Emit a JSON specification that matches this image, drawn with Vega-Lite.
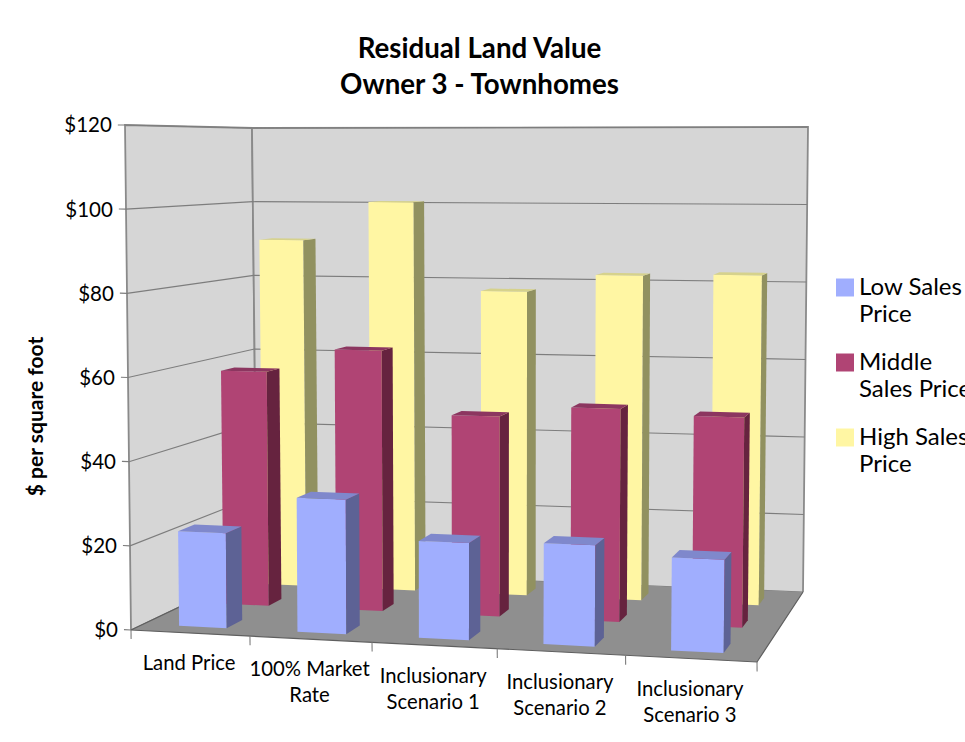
{
  "$schema": "https://vega.github.io/schema/vega-lite/v6.json",
  "width": 965,
  "height": 742,
  "padding": 0,
  "autosize": {"type": "none"},
  "background": "white",
  "title": {
    "text": ["Residual Land Value", "Owner 3 - Townhomes"],
    "font": "Lato",
    "fontSize": 27.7,
    "fontWeight": "bold",
    "lineHeight": 36,
    "color": "#000000",
    "anchor": "middle",
    "frame": "group",
    "baseline": "top",
    "offset": 0,
    "dx": -3,
    "dy": 100
  },
  "config": {"view": {"stroke": null}, "style": {"guide-label": {"lineHeight": 27.5}}},
  "datasets": {
    "bars": [
      {"category": "Land Price", "series": "High Sales Price", "value": 90.5},
      {"category": "100% Market Rate", "series": "High Sales Price", "value": 100.6},
      {"category": "Inclusionary Scenario 1", "series": "High Sales Price", "value": 77.9},
      {"category": "Inclusionary Scenario 2", "series": "High Sales Price", "value": 82.4},
      {"category": "Inclusionary Scenario 3", "series": "High Sales Price", "value": 82.9},
      {"category": "Land Price", "series": "Middle Sales Price", "value": 58.6},
      {"category": "100% Market Rate", "series": "Middle Sales Price", "value": 64.6},
      {"category": "Inclusionary Scenario 1", "series": "Middle Sales Price", "value": 49.1},
      {"category": "Inclusionary Scenario 2", "series": "Middle Sales Price", "value": 51.8},
      {"category": "Inclusionary Scenario 3", "series": "Middle Sales Price", "value": 50.6},
      {"category": "Land Price", "series": "Low Sales Price", "value": 22.7},
      {"category": "100% Market Rate", "series": "Low Sales Price", "value": 31.8},
      {"category": "Inclusionary Scenario 1", "series": "Low Sales Price", "value": 22.8},
      {"category": "Inclusionary Scenario 2", "series": "Low Sales Price", "value": 23.5},
      {"category": "Inclusionary Scenario 3", "series": "Low Sales Price", "value": 21.4}
    ],
    "planes": [{"plane": "left"}, {"plane": "back"}, {"plane": "floor"}],
    "levels": [{"level": 0}, {"level": 20}, {"level": 40}, {"level": 60}, {"level": 80}, {"level": 100}, {"level": 120}],
    "slots": [
      {"slot": 0, "name": "Land Price"},
      {"slot": 1, "name": "100% Market\nRate"},
      {"slot": 2, "name": "Inclusionary\nScenario 1"},
      {"slot": 3, "name": "Inclusionary\nScenario 2"},
      {"slot": 4, "name": "Inclusionary\nScenario 3"},
      {"slot": 5, "name": ""}
    ]
  },
  "encoding": {
    "x": {"field": "sx", "type": "quantitative", "scale": {"domain": [0, 965], "range": [0, 965]}, "axis": null},
    "y": {
      "field": "sy",
      "type": "quantitative",
      "scale": {"domain": [0, 742], "range": [0, 742]},
      "axis": {
        "title": "$ per square foot",
        "labels": false,
        "ticks": false,
        "domain": false,
        "grid": false,
        "titleFont": "Lato",
        "titleFontSize": 21,
        "titleFontWeight": "bold",
        "titleColor": "#000000",
        "titleX": 46.5,
        "titleY": 416,
        "titleAngle": -90,
        "titleAlign": "center"
      }
    }
  },
  "layer": [
    {
      "data": {"name": "planes"},
      "transform": [
        {"filter": "datum.plane !== 'floor'"},
        {"calculate": "datum.plane === 'left' ? [0,0,0,0] : [0,0,1,1]", "as": "vx"},
        {"calculate": "datum.plane === 'left' ? [0,0,1,1] : [1,1,1,1]", "as": "vz"},
        {"calculate": "[0,1,1,0]", "as": "vy"},
        {"calculate": "[0,1,2,3]", "as": "corner"},
        {"flatten": ["vx", "vz", "vy", "corner"]},
        {"calculate": "datum.vx*(0.9375+0.0625*datum.vx)", "as": "xw"},
        {"calculate": "(1-datum.vy)*((131+126*datum.vz)+(626-80*datum.vz)*datum.xw)+datum.vy*((125+127*datum.vz)+(638-82*datum.vz)*datum.xw)", "as": "sx"},
        {"calculate": "(1-datum.vy)*((630-60*datum.vz)+(32-10*datum.vz)*datum.xw)+datum.vy*((125+3*datum.vz)+(6-7*datum.vz)*datum.xw)", "as": "sy"}
      ],
      "mark": {"type": "line", "fill": "#d6d6d6", "stroke": "#8a8a8a", "strokeWidth": 1.8},
      "encoding": {"detail": {"field": "plane"}, "order": {"field": "corner", "type": "quantitative"}}
    },
    {
      "data": {"name": "levels"},
      "transform": [
        {"calculate": "[-0.012,0,0,1]", "as": "vx"},
        {"calculate": "[0,0,1,1]", "as": "vz"},
        {"calculate": "[0,1,2,3]", "as": "corner"},
        {"flatten": ["vx", "vz", "corner"]},
        {"calculate": "datum.level/120", "as": "vy"},
        {"calculate": "datum.vx*(0.9375+0.0625*datum.vx)", "as": "xw"},
        {"calculate": "(1-datum.vy)*((131+126*datum.vz)+(626-80*datum.vz)*datum.xw)+datum.vy*((125+127*datum.vz)+(638-82*datum.vz)*datum.xw)", "as": "sx"},
        {"calculate": "(1-datum.vy)*((630-60*datum.vz)+(32-10*datum.vz)*datum.xw)+datum.vy*((125+3*datum.vz)+(6-7*datum.vz)*datum.xw)", "as": "sy"}
      ],
      "layer": [
        {
          "mark": {"type": "line", "stroke": "#7d7d7d", "strokeWidth": 1.1},
          "encoding": {"detail": {"field": "level"}, "order": {"field": "corner", "type": "quantitative"}}
        },
        {
          "transform": [{"filter": "datum.corner === 0"}],
          "mark": {"type": "text", "align": "right", "baseline": "middle", "dx": -6, "dy": 1.5, "font": "Lato", "fontSize": 20.5, "color": "#000000"},
          "encoding": {"text": {"field": "level", "type": "quantitative", "format": "$,d"}}
        }
      ]
    },
    {
      "data": {"name": "planes"},
      "transform": [
        {"filter": "datum.plane === 'floor'"},
        {"calculate": "[0,0,1,1]", "as": "vx"},
        {"calculate": "[1,0,0,1]", "as": "vz"},
        {"calculate": "[0,1,2,3]", "as": "corner"},
        {"flatten": ["vx", "vz", "corner"]},
        {"calculate": "datum.vx*(0.9375+0.0625*datum.vx)", "as": "xw"},
        {"calculate": "(131+126*datum.vz)+(626-80*datum.vz)*datum.xw", "as": "sx"},
        {"calculate": "(630-60*datum.vz)+(32-10*datum.vz)*datum.xw", "as": "sy"}
      ],
      "mark": {"type": "line", "fill": "#8f8f8f", "stroke": "#5f5f5f", "strokeWidth": 1.2},
      "encoding": {"order": {"field": "corner", "type": "quantitative"}}
    },
    {
      "data": {"name": "slots"},
      "transform": [
        {"calculate": "[0,-0.018]", "as": "vy"},
        {"calculate": "[0,1]", "as": "corner"},
        {"flatten": ["vy", "corner"]},
        {"calculate": "datum.slot*0.2", "as": "vx"},
        {"calculate": "datum.vx*(0.9375+0.0625*datum.vx)", "as": "xw"},
        {"calculate": "131+626*datum.xw-6*datum.vy", "as": "sx"},
        {"calculate": "(1-datum.vy)*(630+32*datum.xw)+datum.vy*(125+6*datum.xw)", "as": "sy"}
      ],
      "mark": {"type": "line", "stroke": "#7d7d7d", "strokeWidth": 1.1},
      "encoding": {"detail": {"field": "slot"}, "order": {"field": "corner", "type": "quantitative"}}
    },
    {
      "data": {"name": "slots"},
      "transform": [
        {"filter": "datum.slot < 5"},
        {"calculate": "datum.slot*0.2+0.1", "as": "vx"},
        {"calculate": "datum.vx*(0.9375+0.0625*datum.vx)", "as": "xw"},
        {"calculate": "131+626*datum.xw", "as": "sx"},
        {"calculate": "630+32*datum.xw", "as": "sy"}
      ],
      "mark": {"type": "text", "align": "center", "baseline": "middle", "dy": 31, "dx": -1, "font": "Lato", "fontSize": 20.3, "lineHeight": 26, "lineBreak": "\n", "color": "#000000"},
      "encoding": {"text": {"field": "name", "type": "nominal"}}
    },
    {
      "data": {"name": "bars"},
      "transform": [
        {"calculate": "indexof(['Land Price','100% Market Rate','Inclusionary Scenario 1','Inclusionary Scenario 2','Inclusionary Scenario 3'],datum.category)", "as": "slot"},
        {"calculate": "datum.slot*0.2+0.061", "as": "x0"},
        {"calculate": "datum.slot*0.2+0.142", "as": "x1"},
        {"calculate": "datum.series === 'Low Sales Price' ? 0.1 : datum.series === 'Middle Sales Price' ? 0.465 : 0.79", "as": "z0"},
        {"calculate": "datum.series === 'Low Sales Price' ? 0.235 : datum.series === 'Middle Sales Price' ? 0.575 : 0.895", "as": "z1"},
        {"calculate": "datum.value/120", "as": "v"},
        {"calculate": "['front','side','top']", "as": "face"},
        {"flatten": ["face"]},
        {"calculate": "datum.face === 'side' ? [datum.x1,datum.x1,datum.x1,datum.x1] : [datum.x0,datum.x1,datum.x1,datum.x0]", "as": "vx"},
        {"calculate": "datum.face === 'front' ? [datum.z0,datum.z0,datum.z0,datum.z0] : datum.face === 'side' ? [datum.z0,datum.z1,datum.z1,datum.z0] : [datum.z0,datum.z0,datum.z1,datum.z1]", "as": "vz"},
        {"calculate": "datum.face === 'top' ? [datum.v,datum.v,datum.v,datum.v] : [datum.v,datum.v,0,0]", "as": "vy"},
        {"calculate": "[0,1,2,3]", "as": "corner"},
        {"flatten": ["vx", "vz", "vy", "corner"]},
        {"calculate": "datum.series + '|' + datum.face", "as": "shade"},
        {"calculate": "datum.series + '|' + datum.category + '|' + datum.face", "as": "polygon"},
        {"calculate": "datum.vx*(0.9375+0.0625*datum.vx)", "as": "xw"},
        {"calculate": "(1-datum.vy)*((131+126*datum.vz)+(626-80*datum.vz)*datum.xw)+datum.vy*((125+127*datum.vz)+(638-82*datum.vz)*datum.xw)", "as": "sx"},
        {"calculate": "(1-datum.vy)*((630-60*datum.vz)+(32-10*datum.vz)*datum.xw)+datum.vy*((125+3*datum.vz)+(6-7*datum.vz)*datum.xw)", "as": "sy"}
      ],
      "mark": {"type": "line", "strokeWidth": 0, "interpolate": "linear-closed"},
      "encoding": {
        "detail": {"field": "polygon"},
        "order": {"field": "corner", "type": "quantitative"},
        "fill": {
          "field": "shade",
          "type": "nominal",
          "sort": null,
          "scale": {
            "domain": [
              "Low Sales Price|front", "Middle Sales Price|front", "High Sales Price|front",
              "Low Sales Price|side", "Low Sales Price|top",
              "Middle Sales Price|side", "Middle Sales Price|top",
              "High Sales Price|side", "High Sales Price|top"
            ],
            "range": [
              "#a0aefe", "#b04474", "#fff6a3",
              "#5d6295", "#7f88cc",
              "#66233f", "#8c3660",
              "#919160", "#d6d28c"
            ]
          },
          "legend": {
            "title": null,
            "orient": "none",
            "legendX": 833,
            "legendY": 275.5,
            "values": ["Low Sales Price|front", "Middle Sales Price|front", "High Sales Price|front"],
            "labelExpr": "datum.value === 'Low Sales Price|front' ? ['Low Sales','Price'] : datum.value === 'Middle Sales Price|front' ? ['Middle','Sales Price'] : ['High Sales','Price']",
            "symbolType": "square",
            "symbolSize": 324,
            "symbolStrokeWidth": 0,
            "labelFont": "Lato",
            "labelFontSize": 24,
            "labelColor": "#000000",
            "labelLimit": 400,
            "labelOffset": 2,
            "rowPadding": 23
          }
        }
      }
    },
    {
      "data": {"values": [{"edge": "page"}]},
      "mark": {"type": "rule", "stroke": "#dcdcdc", "strokeWidth": 1},
      "encoding": {"y": {"datum": 7.5}, "x": {"datum": 0}, "x2": {"datum": 965}}
    }
  ]
}
